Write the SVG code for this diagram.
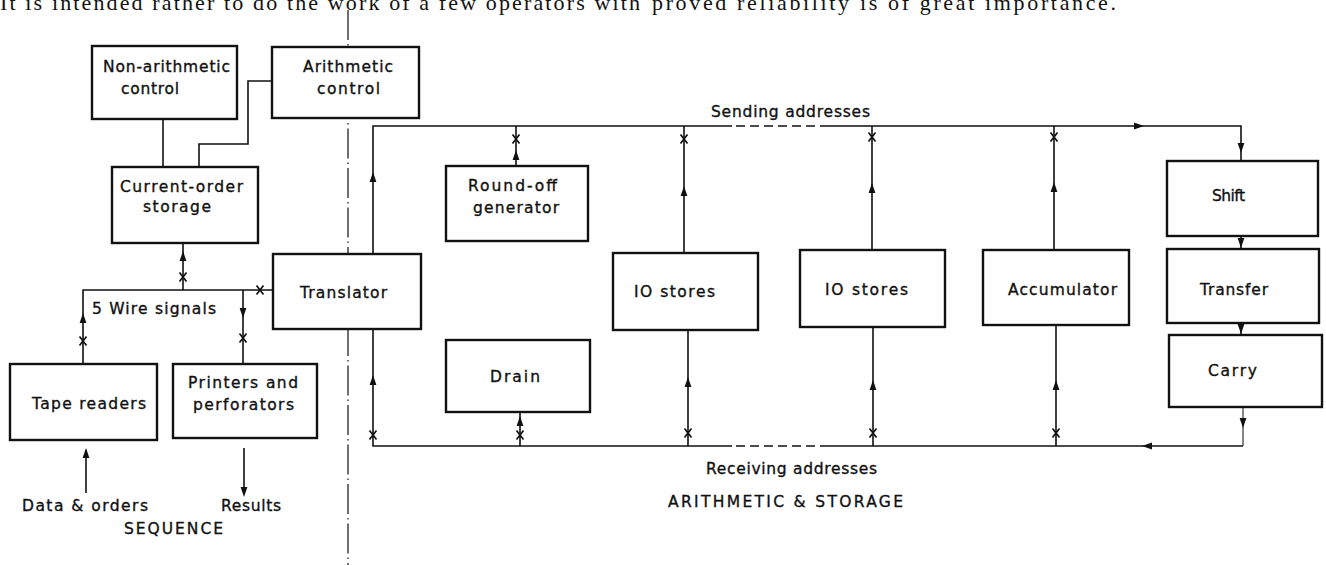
<svg xmlns="http://www.w3.org/2000/svg" xmlns:xlink="http://www.w3.org/1999/xlink" width="1326" height="565" viewBox="0 0 1326 565">
<style>
.box{fill:#fff;stroke:#111;stroke-width:2.4}
.ln{fill:none;stroke:#111;stroke-width:1.6}
.thin{fill:none;stroke:#222;stroke-width:1.1}
.dash{fill:none;stroke:#111;stroke-width:1.6;stroke-dasharray:9 5}
.div{fill:none;stroke:#222;stroke-width:1.3;stroke-dasharray:30 4 1.5 4}
.t{font-family:"DejaVu Sans","Liberation Sans",sans-serif;font-size:15.5px;fill:#111;stroke:#111;stroke-width:0.35}
.top{font-family:"Liberation Serif",serif;font-size:22px;fill:#111}
.ah{fill:#111;stroke:none}
.cx{fill:none;stroke:#111;stroke-width:1.7}
</style>
<defs>
<path id="ah" class="ah" d="M0,0 L-3.4,10 L3.4,10 Z"/>
<path id="cx" class="cx" d="M-3.5,-4.5 L3.5,4.5 M3.5,-4.5 L-3.5,4.5"/>
</defs>
<rect width="1326" height="565" fill="#fff"/>
<text class="top" x="0" y="10" textLength="640" lengthAdjust="spacing">It is intended rather to do the work of a few operators with</text>
<text class="top" x="652" y="10" textLength="464" lengthAdjust="spacing">proved reliability is of great importance.</text>
<line class="div" x1="348" y1="10" x2="348" y2="565"/>
<g id="connectors">
<path class="ln" d="M163,119 V167"/>
<path class="ln" d="M272,81 H248 V144 H199 V167"/>
<path class="ln" d="M183,243 V290"/>
<path class="ln" d="M83,364 V290 H273"/>
<path class="ln" d="M243,290 V364"/>
<path class="ln" d="M86,493 V450"/>
<path class="ln" d="M244,448 V494"/>
<path class="ln" d="M373,254 V126 H732"/>
<path class="dash" d="M736,126 H823"/>
<path class="ln" d="M823,126 H1241 V161"/>
<path class="ln" d="M516,166 V126 M684,253 V126 M872,250 V126 M1054,250 V126"/>
<path class="ln" d="M373,329 V446 H732"/>
<path class="dash" d="M736,446 H827"/>
<path class="ln" d="M827,446 H1243"/>
<path class="thin" d="M1243,407 V446"/>
<path class="ln" d="M520,412 V446 M688,329 V446 M873,328 V446 M1056,325 V446"/>
<path class="ln" d="M1241,236 V249 M1241,323 V335"/>
<use xlink:href="#ah" transform="translate(183,251)"/>
<use xlink:href="#cx" transform="translate(183,277)"/>
<use xlink:href="#ah" transform="translate(83,313)"/>
<use xlink:href="#cx" transform="translate(83,341)"/>
<use xlink:href="#ah" transform="translate(243,318) rotate(180)"/>
<use xlink:href="#cx" transform="translate(243,338)"/>
<use xlink:href="#cx" transform="translate(260,290)"/>
<use xlink:href="#ah" transform="translate(86,448)"/>
<use xlink:href="#ah" transform="translate(244,497) rotate(180)"/>
<use xlink:href="#ah" transform="translate(373,172)"/>
<use xlink:href="#ah" transform="translate(516,150)"/>
<use xlink:href="#cx" transform="translate(516,139)"/>
<use xlink:href="#ah" transform="translate(684,186)"/>
<use xlink:href="#cx" transform="translate(684,139)"/>
<use xlink:href="#ah" transform="translate(872,183)"/>
<use xlink:href="#cx" transform="translate(872,137)"/>
<use xlink:href="#ah" transform="translate(1054,182)"/>
<use xlink:href="#cx" transform="translate(1054,137)"/>
<use xlink:href="#ah" transform="translate(1144,126) rotate(90)"/>
<use xlink:href="#ah" transform="translate(1241,153) rotate(180)"/>
<use xlink:href="#ah" transform="translate(373,375)"/>
<use xlink:href="#cx" transform="translate(373,435)"/>
<use xlink:href="#ah" transform="translate(520,416)"/>
<use xlink:href="#cx" transform="translate(520,435)"/>
<use xlink:href="#ah" transform="translate(688,377)"/>
<use xlink:href="#cx" transform="translate(688,433)"/>
<use xlink:href="#ah" transform="translate(873,380)"/>
<use xlink:href="#cx" transform="translate(873,433)"/>
<use xlink:href="#ah" transform="translate(1056,380)"/>
<use xlink:href="#cx" transform="translate(1056,433)"/>
<use xlink:href="#ah" transform="translate(1241,248) rotate(180)"/>
<use xlink:href="#ah" transform="translate(1241,334) rotate(180)"/>
<use xlink:href="#ah" transform="translate(1243,428) rotate(180)"/>
<use xlink:href="#ah" transform="translate(1142,446) rotate(-90)"/>
</g>
<g id="nonarith"><rect class="box" x="92" y="46" width="145" height="73"/>
<text class="t" x="103" y="72" textLength="127" lengthAdjust="spacing">Non-arithmetic</text>
<text class="t" x="121" y="94" textLength="58" lengthAdjust="spacing">control</text></g>
<g id="arith"><rect class="box" x="272" y="47" width="147" height="71"/>
<text class="t" x="303" y="72" textLength="90" lengthAdjust="spacing">Arithmetic</text>
<text class="t" x="317" y="94" textLength="63" lengthAdjust="spacing">control</text></g>
<g id="current"><rect class="box" x="112" y="167" width="146" height="76"/>
<text class="t" x="120" y="192" textLength="123" lengthAdjust="spacing">Current-order</text>
<text class="t" x="143" y="212" textLength="68" lengthAdjust="spacing">storage</text></g>
<g id="translator"><rect class="box" x="273" y="254" width="148" height="75"/>
<text class="t" x="300" y="298" textLength="87" lengthAdjust="spacing">Translator</text></g>
<g id="tape"><rect class="box" x="10" y="364" width="147" height="76"/>
<text class="t" x="32" y="409" textLength="114" lengthAdjust="spacing">Tape readers</text></g>
<g id="printers"><rect class="box" x="173" y="364" width="144" height="74"/>
<text class="t" x="188" y="388" textLength="110" lengthAdjust="spacing">Printers and</text>
<text class="t" x="193" y="410" textLength="101" lengthAdjust="spacing">perforators</text></g>
<g id="roundoff"><rect class="box" x="446" y="166" width="142" height="75"/>
<text class="t" x="468" y="191" textLength="89" lengthAdjust="spacing">Round-off</text>
<text class="t" x="473" y="213" textLength="86" lengthAdjust="spacing">generator</text></g>
<g id="stores1"><rect class="box" x="613" y="253" width="145" height="77"/>
<text class="t" x="634" y="297" textLength="81" lengthAdjust="spacing">IO stores</text></g>
<g id="stores2"><rect class="box" x="800" y="250" width="145" height="77"/>
<text class="t" x="825" y="295" textLength="83" lengthAdjust="spacing">IO stores</text></g>
<g id="accum"><rect class="box" x="983" y="250" width="146" height="75"/>
<text class="t" x="1008" y="295" textLength="109" lengthAdjust="spacing">Accumulator</text></g>
<g id="shift"><rect class="box" x="1167" y="161" width="151" height="75"/>
<text class="t" x="1212" y="201" textLength="33" lengthAdjust="spacing">Shift</text></g>
<g id="transfer"><rect class="box" x="1167" y="249" width="152" height="74"/>
<text class="t" x="1200" y="295" textLength="68" lengthAdjust="spacing">Transfer</text></g>
<g id="carry"><rect class="box" x="1169" y="335" width="153" height="72"/>
<text class="t" x="1208" y="376" textLength="49" lengthAdjust="spacing">Carry</text></g>
<g id="drain"><rect class="box" x="446" y="340" width="144" height="72"/>
<text class="t" x="490" y="382" textLength="50" lengthAdjust="spacing">Drain</text></g>
<g id="labels">
<text class="t" x="92" y="314" textLength="124" lengthAdjust="spacing">5 Wire signals</text>
<text class="t" x="22" y="511" textLength="126" lengthAdjust="spacing">Data &amp; orders</text>
<text class="t" x="221" y="511" textLength="60" lengthAdjust="spacing">Results</text>
<text class="t" x="124" y="534" textLength="99" lengthAdjust="spacing">SEQUENCE</text>
<text class="t" x="711" y="117" textLength="159" lengthAdjust="spacing">Sending addresses</text>
<text class="t" x="706" y="474" textLength="171" lengthAdjust="spacing">Receiving addresses</text>
<text class="t" x="668" y="507" textLength="235" lengthAdjust="spacing">ARITHMETIC &amp; STORAGE</text>
</g>
</svg>
